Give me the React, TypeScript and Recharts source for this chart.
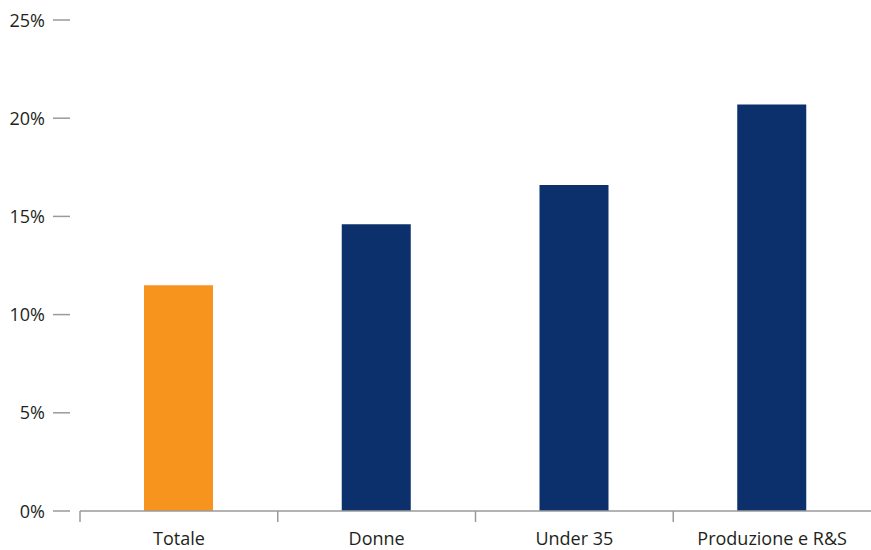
import { BarChart, Bar, XAxis, YAxis, Cell } from "recharts";

const categories = ["Totale", "Donne", "Under 35", "Produzione e R&S"];
const values = [11.5, 14.6, 16.6, 20.7];
const yTicks = [0, 5, 10, 15, 20, 25];
const barColors = ["#F7941D", "#0B306B", "#0B306B", "#0B306B"];

const data = categories.map((name, i) => ({ name, value: values[i] }));

const WIDTH = 871;
const HEIGHT = 550;
const Y_AXIS_W = 80;
const HALF_BAND = (WIDTH - Y_AXIS_W) / categories.length / 2;
const FONT = "'Open Sans', 'Noto Sans', sans-serif";

function XTick(props: any) {
  const { x, y, payload } = props;
  return (
    <g>
      <line x1={x - HALF_BAND} y1={y} x2={x - HALF_BAND} y2={y + 11} stroke="#9a9a9a" strokeWidth={1.5} />
      <text x={x} y={y + 34} textAnchor="middle" fill="#231F20" fontSize={18} fontFamily={FONT}>
        {payload.value}
      </text>
    </g>
  );
}

function YTick(props: any) {
  const { x, y, payload } = props;
  return (
    <g>
      <line x1={x - 27} y1={y} x2={x - 10} y2={y} stroke="#9a9a9a" strokeWidth={1.5} />
      <text x={x - 35} y={y + 6.5} textAnchor="end" fill="#231F20" fontSize={18} fontFamily={FONT}>
        {payload.value + "%"}
      </text>
    </g>
  );
}

export default function App() {
  return (
    <div style={{ position: "absolute", left: 0, top: 0, background: "#fff" }}>
      <BarChart
        width={WIDTH}
        height={HEIGHT}
        data={data}
        margin={{ top: 20, right: 0, left: 0, bottom: 0 }}
      >
        <XAxis
          dataKey="name"
          height={39}
          tickSize={0}
          tickMargin={0}
          tickLine={false}
          axisLine={{ stroke: "#9a9a9a", strokeWidth: 1.5 }}
          tick={<XTick />}
          interval={0}
        />
        <YAxis
          width={Y_AXIS_W}
          domain={[0, 25]}
          ticks={yTicks}
          tickSize={0}
          tickMargin={0}
          tickLine={false}
          axisLine={false}
          tick={<YTick />}
        />
        <Bar dataKey="value" barSize={69} isAnimationActive={false}>
          {data.map((d, i) => (
            <Cell key={d.name} fill={barColors[i]} />
          ))}
        </Bar>
      </BarChart>
    </div>
  );
}
